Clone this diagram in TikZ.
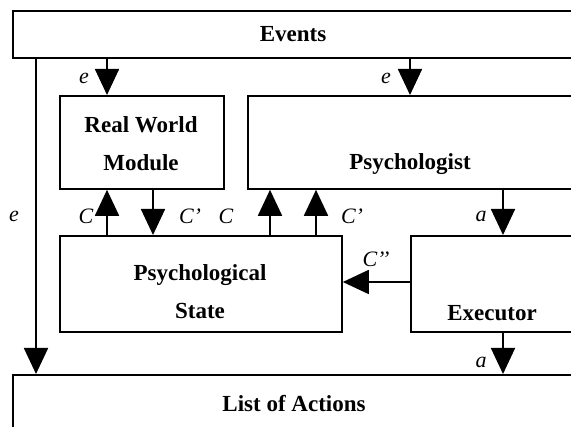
\documentclass[tikz,border=0pt]{standalone}
\usepackage{fontspec}
\setmainfont{Liberation Serif}
\usetikzlibrary{arrows.meta}
\begin{document}
\begin{tikzpicture}[x=1pt,y=-1pt,
  box/.style={draw, line width=1.8pt, anchor=north west, inner sep=0pt},
  ttl/.style={font=\fontsize{23}{38}\selectfont\bfseries, align=center, inner sep=0pt},
  lbl/.style={font=\fontsize{22}{26}\selectfont\itshape, inner sep=0pt},
  arr/.style={line width=1.8pt, -{Triangle[length=26pt,width=24pt]}}
]
\useasboundingbox (0,0) rectangle (571,427);
\clip (0,0) rectangle (571,427);
% boxes
\node[box, minimum width=562pt, minimum height=47pt] (events) at (12,10) {};
\node[box, minimum width=164pt, minimum height=93pt] (rw) at (59,95) {};
\node[box, minimum width=327pt, minimum height=93pt] (psy) at (247,95) {};
\node[box, minimum width=282pt, minimum height=96pt] (ps) at (59,235) {};
\node[box, minimum width=164pt, minimum height=96pt] (exec) at (410,235) {};
\node[box, minimum width=564pt, minimum height=62pt] (list) at (12,374) {};
% titles
\node[ttl, anchor=base] (eventsT) at (293,42) {Events};
\node[ttl] (rwT) at (141,144) {Real World\\Module};
\node[ttl, anchor=base] (psyT) at (410,170) {Psychologist};
\node[ttl] (psT) at (200,292) {Psychological\\State};
\node[ttl, anchor=base] (execT) at (492,321) {Executor};
\node[ttl, anchor=base] (listT) at (294,412) {List of Actions};
% x positions of connectors
\coordinate (xL) at (36,0);
\coordinate (xA) at (107,0);
\coordinate (xB) at (153,0);
\coordinate (xC) at (270,0);
\coordinate (xD) at (316,0);
\coordinate (xE) at (410,0);
\coordinate (xF) at (503,0);
\coordinate (yC) at (0,282);
% connectors
\draw[arr] (events.south -| xL) -- (list.north -| xL);
\draw[arr] (events.south -| xA) -- (rw.north -| xA);
\draw[arr] (events.south -| xE) -- (psy.north -| xE);
\draw[arr] (ps.north -| xA) -- (rw.south -| xA);
\draw[arr] (rw.south -| xB) -- (ps.north -| xB);
\draw[arr] (ps.north -| xC) -- (psy.south -| xC);
\draw[arr] (ps.north -| xD) -- (psy.south -| xD);
\draw[arr] (psy.south -| xF) -- (exec.north -| xF);
\draw[arr] (exec.west |- yC) -- (ps.east |- yC);
\draw[arr] (exec.south -| xF) -- (list.north -| xF);
% labels
\node[lbl] (le1) at (84,78) {e};
\node[lbl] (le2) at (386,78) {e};
\node[lbl] (le3) at (14,216) {e};
\node[lbl] (lc1) at (86,216) {C};
\node[lbl] (lc2) at (190,216) {C’};
\node[lbl] (lc3) at (226,216) {C};
\node[lbl] (lc4) at (352,216) {C’};
\node[lbl] (la1) at (481,216) {a};
\node[lbl] (lc5) at (376,259) {C’’};
\node[lbl] (la2) at (481,362) {a};
\end{tikzpicture}
\end{document}
